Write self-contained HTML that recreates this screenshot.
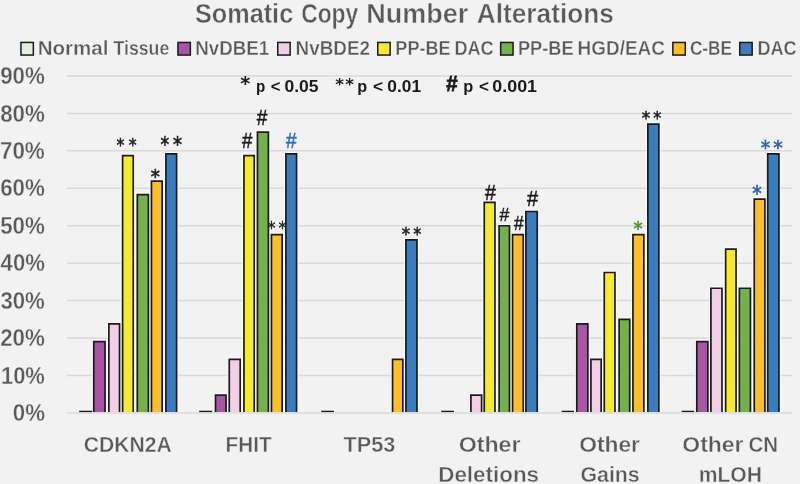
<!DOCTYPE html>
<html lang="en"><head><meta charset="utf-8"><title>Somatic Copy Number Alterations</title>
<style>
html,body{margin:0;padding:0;background:#f2f2f2;overflow:hidden}
svg{display:block}
text{white-space:pre}
</style></head><body>
<svg width="800" height="484" viewBox="0 0 800 484">
<rect x="0" y="0" width="800" height="484" fill="#f2f2f2"/>
<line x1="67.0" x2="792.0" y1="412.90" y2="412.90" stroke="#d9d9d9" stroke-width="1.5"/>
<line x1="67.0" x2="792.0" y1="375.47" y2="375.47" stroke="#d9d9d9" stroke-width="1.5"/>
<line x1="67.0" x2="792.0" y1="338.03" y2="338.03" stroke="#d9d9d9" stroke-width="1.5"/>
<line x1="67.0" x2="792.0" y1="300.60" y2="300.60" stroke="#d9d9d9" stroke-width="1.5"/>
<line x1="67.0" x2="792.0" y1="263.17" y2="263.17" stroke="#d9d9d9" stroke-width="1.5"/>
<line x1="67.0" x2="792.0" y1="225.73" y2="225.73" stroke="#d9d9d9" stroke-width="1.5"/>
<line x1="67.0" x2="792.0" y1="188.30" y2="188.30" stroke="#d9d9d9" stroke-width="1.5"/>
<line x1="67.0" x2="792.0" y1="150.87" y2="150.87" stroke="#d9d9d9" stroke-width="1.5"/>
<line x1="67.0" x2="792.0" y1="113.43" y2="113.43" stroke="#d9d9d9" stroke-width="1.5"/>
<line x1="67.0" x2="792.0" y1="76.00" y2="76.00" stroke="#d9d9d9" stroke-width="1.5"/>
<rect x="78.40" y="409.80" width="14.50" height="2.6" fill="#fff" opacity="0.8"/>
<path d="M93.75 412.00V341.59H105.05V412.00" fill="none" stroke="#fff" stroke-width="3.7" opacity="0.8"/>
<path d="M108.85 412.00V323.81H119.55V412.00" fill="none" stroke="#fff" stroke-width="3.7" opacity="0.8"/>
<path d="M122.60 412.00V155.55H133.25V412.00" fill="none" stroke="#fff" stroke-width="3.7" opacity="0.8"/>
<path d="M137.30 412.00V194.66H148.40V412.00" fill="none" stroke="#fff" stroke-width="3.7" opacity="0.8"/>
<path d="M151.45 412.00V181.19H162.15V412.00" fill="none" stroke="#fff" stroke-width="3.7" opacity="0.8"/>
<path d="M165.90 412.00V153.86H176.60V412.00" fill="none" stroke="#fff" stroke-width="3.7" opacity="0.8"/>
<rect x="198.40" y="409.80" width="14.50" height="2.6" fill="#fff" opacity="0.8"/>
<path d="M215.50 412.00V395.08H226.05V412.00" fill="none" stroke="#fff" stroke-width="3.7" opacity="0.8"/>
<path d="M229.25 412.00V359.37H240.20V412.00" fill="none" stroke="#fff" stroke-width="3.7" opacity="0.8"/>
<path d="M243.95 412.00V155.55H254.25V412.00" fill="none" stroke="#fff" stroke-width="3.7" opacity="0.8"/>
<path d="M257.45 412.00V132.15H268.40V412.00" fill="none" stroke="#fff" stroke-width="3.7" opacity="0.8"/>
<path d="M271.45 412.00V234.72H282.15V412.00" fill="none" stroke="#fff" stroke-width="3.7" opacity="0.8"/>
<path d="M285.90 412.00V153.86H296.55V412.00" fill="none" stroke="#fff" stroke-width="3.7" opacity="0.8"/>
<rect x="320.50" y="409.80" width="14.20" height="2.6" fill="#fff" opacity="0.8"/>
<path d="M392.55 412.00V359.37H402.85V412.00" fill="none" stroke="#fff" stroke-width="3.7" opacity="0.8"/>
<path d="M405.90 412.00V239.96H417.00V412.00" fill="none" stroke="#fff" stroke-width="3.7" opacity="0.8"/>
<rect x="440.50" y="409.80" width="14.20" height="2.6" fill="#fff" opacity="0.8"/>
<path d="M470.90 412.00V395.08H481.60V412.00" fill="none" stroke="#fff" stroke-width="3.7" opacity="0.8"/>
<path d="M484.25 412.00V202.34H494.95V412.00" fill="none" stroke="#fff" stroke-width="3.7" opacity="0.8"/>
<path d="M499.10 412.00V225.73H509.50V412.00" fill="none" stroke="#fff" stroke-width="3.7" opacity="0.8"/>
<path d="M512.55 412.00V234.72H523.25V412.00" fill="none" stroke="#fff" stroke-width="3.7" opacity="0.8"/>
<path d="M525.90 412.00V211.51H537.25V412.00" fill="none" stroke="#fff" stroke-width="3.7" opacity="0.8"/>
<rect x="560.90" y="409.80" width="13.80" height="2.6" fill="#fff" opacity="0.8"/>
<path d="M576.75 412.00V323.81H587.85V412.00" fill="none" stroke="#fff" stroke-width="3.7" opacity="0.8"/>
<path d="M590.90 412.00V359.37H601.15V412.00" fill="none" stroke="#fff" stroke-width="3.7" opacity="0.8"/>
<path d="M604.25 412.00V272.52H614.95V412.00" fill="none" stroke="#fff" stroke-width="3.7" opacity="0.8"/>
<path d="M619.10 412.00V319.32H629.75V412.00" fill="none" stroke="#fff" stroke-width="3.7" opacity="0.8"/>
<path d="M632.95 412.00V234.72H643.85V412.00" fill="none" stroke="#fff" stroke-width="3.7" opacity="0.8"/>
<path d="M647.85 412.00V124.10H658.85V412.00" fill="none" stroke="#fff" stroke-width="3.7" opacity="0.8"/>
<rect x="680.90" y="409.80" width="14.05" height="2.6" fill="#fff" opacity="0.8"/>
<path d="M696.75 412.00V341.59H707.85V412.00" fill="none" stroke="#fff" stroke-width="3.7" opacity="0.8"/>
<path d="M710.90 412.00V288.25H722.00V412.00" fill="none" stroke="#fff" stroke-width="3.7" opacity="0.8"/>
<path d="M725.65 412.00V249.13H736.05V412.00" fill="none" stroke="#fff" stroke-width="3.7" opacity="0.8"/>
<path d="M739.35 412.00V288.25H750.45V412.00" fill="none" stroke="#fff" stroke-width="3.7" opacity="0.8"/>
<path d="M754.25 412.00V199.16H764.90V412.00" fill="none" stroke="#fff" stroke-width="3.7" opacity="0.8"/>
<path d="M767.70 412.00V153.86H778.95V412.00" fill="none" stroke="#fff" stroke-width="3.7" opacity="0.8"/>
<text transform="matrix(0.8000 0 0 0.9011 267.50 234.00)" font-family="'DejaVu Sans', sans-serif" font-weight="normal" font-size="20.0" fill="#1a1a1a" stroke="#1a1a1a" stroke-width="0.4">*</text>
<text transform="matrix(0.8000 0 0 0.9011 278.50 234.00)" font-family="'DejaVu Sans', sans-serif" font-weight="normal" font-size="20.0" fill="#1a1a1a" stroke="#1a1a1a" stroke-width="0.4">*</text>
<rect x="79.10" y="410.70" width="13.10" height="1.4" fill="#1a1a1a"/>
<path d="M93.75 412.00V341.59H105.05V412.00" fill="#a855a5" stroke="#1a1a1a" stroke-width="1.7"/>
<path d="M108.85 412.00V323.81H119.55V412.00" fill="#f2cfe6" stroke="#1a1a1a" stroke-width="1.7"/>
<path d="M122.60 412.00V155.55H133.25V412.00" fill="#f5ea2d" stroke="#1a1a1a" stroke-width="1.7"/>
<path d="M137.30 412.00V194.66H148.40V412.00" fill="#74b04c" stroke="#1a1a1a" stroke-width="1.7"/>
<path d="M151.45 412.00V181.19H162.15V412.00" fill="#fdbe2c" stroke="#1a1a1a" stroke-width="1.7"/>
<path d="M165.90 412.00V153.86H176.60V412.00" fill="#3b7cbf" stroke="#1a1a1a" stroke-width="1.7"/>
<rect x="199.10" y="410.70" width="13.10" height="1.4" fill="#1a1a1a"/>
<path d="M215.50 412.00V395.08H226.05V412.00" fill="#a855a5" stroke="#1a1a1a" stroke-width="1.7"/>
<path d="M229.25 412.00V359.37H240.20V412.00" fill="#f2cfe6" stroke="#1a1a1a" stroke-width="1.7"/>
<path d="M243.95 412.00V155.55H254.25V412.00" fill="#f5ea2d" stroke="#1a1a1a" stroke-width="1.7"/>
<path d="M257.45 412.00V132.15H268.40V412.00" fill="#74b04c" stroke="#1a1a1a" stroke-width="1.7"/>
<path d="M271.45 412.00V234.72H282.15V412.00" fill="#fdbe2c" stroke="#1a1a1a" stroke-width="1.7"/>
<path d="M285.90 412.00V153.86H296.55V412.00" fill="#3b7cbf" stroke="#1a1a1a" stroke-width="1.7"/>
<rect x="321.20" y="410.70" width="12.80" height="1.4" fill="#1a1a1a"/>
<path d="M392.55 412.00V359.37H402.85V412.00" fill="#fdbe2c" stroke="#1a1a1a" stroke-width="1.7"/>
<path d="M405.90 412.00V239.96H417.00V412.00" fill="#3b7cbf" stroke="#1a1a1a" stroke-width="1.7"/>
<rect x="441.20" y="410.70" width="12.80" height="1.4" fill="#1a1a1a"/>
<path d="M470.90 412.00V395.08H481.60V412.00" fill="#f2cfe6" stroke="#1a1a1a" stroke-width="1.7"/>
<path d="M484.25 412.00V202.34H494.95V412.00" fill="#f5ea2d" stroke="#1a1a1a" stroke-width="1.7"/>
<path d="M499.10 412.00V225.73H509.50V412.00" fill="#74b04c" stroke="#1a1a1a" stroke-width="1.7"/>
<path d="M512.55 412.00V234.72H523.25V412.00" fill="#fdbe2c" stroke="#1a1a1a" stroke-width="1.7"/>
<path d="M525.90 412.00V211.51H537.25V412.00" fill="#3b7cbf" stroke="#1a1a1a" stroke-width="1.7"/>
<rect x="561.60" y="410.70" width="12.40" height="1.4" fill="#1a1a1a"/>
<path d="M576.75 412.00V323.81H587.85V412.00" fill="#a855a5" stroke="#1a1a1a" stroke-width="1.7"/>
<path d="M590.90 412.00V359.37H601.15V412.00" fill="#f2cfe6" stroke="#1a1a1a" stroke-width="1.7"/>
<path d="M604.25 412.00V272.52H614.95V412.00" fill="#f5ea2d" stroke="#1a1a1a" stroke-width="1.7"/>
<path d="M619.10 412.00V319.32H629.75V412.00" fill="#74b04c" stroke="#1a1a1a" stroke-width="1.7"/>
<path d="M632.95 412.00V234.72H643.85V412.00" fill="#fdbe2c" stroke="#1a1a1a" stroke-width="1.7"/>
<path d="M647.85 412.00V124.10H658.85V412.00" fill="#3b7cbf" stroke="#1a1a1a" stroke-width="1.7"/>
<rect x="681.60" y="410.70" width="12.65" height="1.4" fill="#1a1a1a"/>
<path d="M696.75 412.00V341.59H707.85V412.00" fill="#a855a5" stroke="#1a1a1a" stroke-width="1.7"/>
<path d="M710.90 412.00V288.25H722.00V412.00" fill="#f2cfe6" stroke="#1a1a1a" stroke-width="1.7"/>
<path d="M725.65 412.00V249.13H736.05V412.00" fill="#f5ea2d" stroke="#1a1a1a" stroke-width="1.7"/>
<path d="M739.35 412.00V288.25H750.45V412.00" fill="#74b04c" stroke="#1a1a1a" stroke-width="1.7"/>
<path d="M754.25 412.00V199.16H764.90V412.00" fill="#fdbe2c" stroke="#1a1a1a" stroke-width="1.7"/>
<path d="M767.70 412.00V153.86H778.95V412.00" fill="#3b7cbf" stroke="#1a1a1a" stroke-width="1.7"/>
<rect x="20.95" y="42.45" width="12.4" height="12.6" fill="#e2efda" stroke="#1a1a1a" stroke-width="1.5"/>
<rect x="177.95" y="42.45" width="12.4" height="12.6" fill="#a855a5" stroke="#1a1a1a" stroke-width="1.5"/>
<rect x="277.75" y="42.45" width="12.4" height="12.6" fill="#f2cfe6" stroke="#1a1a1a" stroke-width="1.5"/>
<rect x="377.75" y="42.45" width="12.4" height="12.6" fill="#f5ea2d" stroke="#1a1a1a" stroke-width="1.5"/>
<rect x="500.65" y="42.45" width="12.4" height="12.6" fill="#74b04c" stroke="#1a1a1a" stroke-width="1.5"/>
<rect x="672.85" y="42.45" width="12.4" height="12.6" fill="#fdbe2c" stroke="#1a1a1a" stroke-width="1.5"/>
<rect x="739.75" y="42.45" width="12.4" height="12.6" fill="#3b7cbf" stroke="#1a1a1a" stroke-width="1.5"/>
<text transform="matrix(0.9367 0 0 1.0000 194.88 23.00)" font-family="'Liberation Sans', sans-serif" font-weight="bold" font-size="27.0" fill="#595959" stroke="#f2f2f2" stroke-width="0.45">Somatic</text>
<text transform="matrix(0.8456 0 0 1.0000 301.14 23.00)" font-family="'Liberation Sans', sans-serif" font-weight="bold" font-size="27.0" fill="#595959" stroke="#f2f2f2" stroke-width="0.45">Copy</text>
<text transform="matrix(0.9995 0 0 1.0000 366.20 23.00)" font-family="'Liberation Sans', sans-serif" font-weight="bold" font-size="27.0" fill="#595959" stroke="#f2f2f2" stroke-width="0.45">Number</text>
<text transform="matrix(0.9715 0 0 1.0000 476.83 23.00)" font-family="'Liberation Sans', sans-serif" font-weight="bold" font-size="27.0" fill="#595959" stroke="#f2f2f2" stroke-width="0.45">Alterations</text>
<text transform="matrix(1.0369 0 0 1.0000 37.64 55.00)" font-family="'Liberation Sans', sans-serif" font-weight="bold" font-size="19.8" fill="#595959" stroke="#f2f2f2" stroke-width="0.35">Normal</text>
<text transform="matrix(0.8934 0 0 1.0000 113.55 55.00)" font-family="'Liberation Sans', sans-serif" font-weight="bold" font-size="19.8" fill="#595959" stroke="#f2f2f2" stroke-width="0.35">Tissue</text>
<text transform="matrix(0.9465 0 0 1.0000 195.28 55.00)" font-family="'Liberation Sans', sans-serif" font-weight="bold" font-size="19.8" fill="#595959" stroke="#f2f2f2" stroke-width="0.35">NvDBE1</text>
<text transform="matrix(0.9536 0 0 1.0000 295.57 55.00)" font-family="'Liberation Sans', sans-serif" font-weight="bold" font-size="19.8" fill="#595959" stroke="#f2f2f2" stroke-width="0.35">NvBDE2</text>
<text transform="matrix(0.9147 0 0 1.0000 395.33 55.00)" font-family="'Liberation Sans', sans-serif" font-weight="bold" font-size="19.8" fill="#595959" stroke="#f2f2f2" stroke-width="0.35">PP-BE</text>
<text transform="matrix(0.9160 0 0 1.0000 454.43 55.00)" font-family="'Liberation Sans', sans-serif" font-weight="bold" font-size="19.8" fill="#595959" stroke="#f2f2f2" stroke-width="0.35">DAC</text>
<text transform="matrix(0.9207 0 0 1.0000 517.92 55.00)" font-family="'Liberation Sans', sans-serif" font-weight="bold" font-size="19.8" fill="#595959" stroke="#f2f2f2" stroke-width="0.35">PP-BE</text>
<text transform="matrix(0.9566 0 0 1.0000 577.57 55.00)" font-family="'Liberation Sans', sans-serif" font-weight="bold" font-size="19.8" fill="#595959" stroke="#f2f2f2" stroke-width="0.35">HGD/EAC</text>
<text transform="matrix(0.8710 0 0 1.0000 689.93 55.00)" font-family="'Liberation Sans', sans-serif" font-weight="bold" font-size="19.8" fill="#595959" stroke="#f2f2f2" stroke-width="0.35">C-BE</text>
<text transform="matrix(0.9160 0 0 1.0000 757.43 55.00)" font-family="'Liberation Sans', sans-serif" font-weight="bold" font-size="19.8" fill="#595959" stroke="#f2f2f2" stroke-width="0.35">DAC</text>
<text transform="matrix(0.9606 0 0 1.0000 12.74 421.00)" font-family="'Liberation Sans', sans-serif" font-weight="bold" font-size="23.2" fill="#595959" stroke="#f2f2f2" stroke-width="0.35">0%</text>
<text transform="matrix(0.9455 0 0 1.0000 0.95 383.57)" font-family="'Liberation Sans', sans-serif" font-weight="bold" font-size="23.2" fill="#595959" stroke="#f2f2f2" stroke-width="0.35">10%</text>
<text transform="matrix(0.9631 0 0 1.0000 0.14 346.13)" font-family="'Liberation Sans', sans-serif" font-weight="bold" font-size="23.2" fill="#595959" stroke="#f2f2f2" stroke-width="0.35">20%</text>
<text transform="matrix(0.9578 0 0 1.0000 0.38 308.70)" font-family="'Liberation Sans', sans-serif" font-weight="bold" font-size="23.2" fill="#595959" stroke="#f2f2f2" stroke-width="0.35">30%</text>
<text transform="matrix(0.9525 0 0 1.0000 0.62 271.27)" font-family="'Liberation Sans', sans-serif" font-weight="bold" font-size="23.2" fill="#595959" stroke="#f2f2f2" stroke-width="0.35">40%</text>
<text transform="matrix(0.9631 0 0 1.0000 0.14 233.83)" font-family="'Liberation Sans', sans-serif" font-weight="bold" font-size="23.2" fill="#595959" stroke="#f2f2f2" stroke-width="0.35">50%</text>
<text transform="matrix(0.9631 0 0 1.0000 0.14 196.40)" font-family="'Liberation Sans', sans-serif" font-weight="bold" font-size="23.2" fill="#595959" stroke="#f2f2f2" stroke-width="0.35">60%</text>
<text transform="matrix(0.9685 0 0 1.0000 -0.11 158.97)" font-family="'Liberation Sans', sans-serif" font-weight="bold" font-size="23.2" fill="#595959" stroke="#f2f2f2" stroke-width="0.35">70%</text>
<text transform="matrix(0.9631 0 0 1.0000 0.14 121.53)" font-family="'Liberation Sans', sans-serif" font-weight="bold" font-size="23.2" fill="#595959" stroke="#f2f2f2" stroke-width="0.35">80%</text>
<text transform="matrix(0.9631 0 0 1.0000 0.14 84.10)" font-family="'Liberation Sans', sans-serif" font-weight="bold" font-size="23.2" fill="#595959" stroke="#f2f2f2" stroke-width="0.35">90%</text>
<text transform="matrix(0.9429 0 0 1.0000 83.72 452.00)" font-family="'Liberation Sans', sans-serif" font-weight="bold" font-size="22.4" fill="#595959" stroke="#f2f2f2" stroke-width="0.4">CDKN2A</text>
<text transform="matrix(0.9242 0 0 1.0000 225.58 452.00)" font-family="'Liberation Sans', sans-serif" font-weight="bold" font-size="22.4" fill="#595959" stroke="#f2f2f2" stroke-width="0.4">FHIT</text>
<text transform="matrix(0.9654 0 0 1.0000 343.62 452.00)" font-family="'Liberation Sans', sans-serif" font-weight="bold" font-size="22.4" fill="#595959" stroke="#f2f2f2" stroke-width="0.4">TP53</text>
<text transform="matrix(1.0345 0 0 1.0000 458.71 452.00)" font-family="'Liberation Sans', sans-serif" font-weight="bold" font-size="22.4" fill="#595959" stroke="#f2f2f2" stroke-width="0.4">Other</text>
<text transform="matrix(1.0000 0 0 1.0000 438.25 482.00)" font-family="'Liberation Sans', sans-serif" font-weight="bold" font-size="22.4" fill="#595959" stroke="#f2f2f2" stroke-width="0.4">Deletions</text>
<text transform="matrix(1.0190 0 0 1.0000 579.13 452.00)" font-family="'Liberation Sans', sans-serif" font-weight="bold" font-size="22.4" fill="#595959" stroke="#f2f2f2" stroke-width="0.4">Other</text>
<text transform="matrix(0.9540 0 0 1.0000 580.41 482.00)" font-family="'Liberation Sans', sans-serif" font-weight="bold" font-size="22.4" fill="#595959" stroke="#f2f2f2" stroke-width="0.4">Gains</text>
<text transform="matrix(1.0241 0 0 1.0000 682.32 452.00)" font-family="'Liberation Sans', sans-serif" font-weight="bold" font-size="22.4" fill="#595959" stroke="#f2f2f2" stroke-width="0.4">Other</text>
<text transform="matrix(0.9153 0 0 1.0000 748.46 452.00)" font-family="'Liberation Sans', sans-serif" font-weight="bold" font-size="22.4" fill="#595959" stroke="#f2f2f2" stroke-width="0.4">CN</text>
<text transform="matrix(0.9412 0 0 1.0000 698.75 482.00)" font-family="'Liberation Sans', sans-serif" font-weight="bold" font-size="22.4" fill="#595959" stroke="#f2f2f2" stroke-width="0.4">mLOH</text>
<text transform="matrix(0.8824 0 0 1.0000 256.10 92.00)" font-family="'Liberation Sans', sans-serif" font-weight="bold" font-size="17.2" fill="#1a1a1a">p</text>
<text transform="matrix(0.9647 0 0 1.0000 270.78 92.00)" font-family="'Liberation Sans', sans-serif" font-weight="bold" font-size="17.2" fill="#1a1a1a">&lt;</text>
<text transform="matrix(1.0202 0 0 1.0000 284.43 92.00)" font-family="'Liberation Sans', sans-serif" font-weight="bold" font-size="17.2" fill="#1a1a1a">0.05</text>
<text transform="matrix(0.9412 0 0 1.0000 357.32 92.00)" font-family="'Liberation Sans', sans-serif" font-weight="bold" font-size="17.2" fill="#1a1a1a">p</text>
<text transform="matrix(0.9941 0 0 1.0000 373.00 92.00)" font-family="'Liberation Sans', sans-serif" font-weight="bold" font-size="17.2" fill="#1a1a1a">&lt;</text>
<text transform="matrix(1.0078 0 0 1.0000 387.34 92.00)" font-family="'Liberation Sans', sans-serif" font-weight="bold" font-size="17.2" fill="#1a1a1a">0.01</text>
<text transform="matrix(0.9529 0 0 1.0000 463.21 92.00)" font-family="'Liberation Sans', sans-serif" font-weight="bold" font-size="17.2" fill="#1a1a1a">p</text>
<text transform="matrix(0.9941 0 0 1.0000 479.00 92.00)" font-family="'Liberation Sans', sans-serif" font-weight="bold" font-size="17.2" fill="#1a1a1a">&lt;</text>
<text transform="matrix(1.0395 0 0 1.0000 492.32 92.00)" font-family="'Liberation Sans', sans-serif" font-weight="bold" font-size="17.2" fill="#1a1a1a">0.001</text>
<text transform="matrix(0.9684 0 0 0.9769 240.32 90.00)" font-family="'DejaVu Sans', sans-serif" font-weight="bold" font-size="20.0" fill="#1a1a1a">*</text>
<text transform="matrix(0.8316 0 0 0.7777 335.18 90.00)" font-family="'DejaVu Sans', sans-serif" font-weight="bold" font-size="20.0" fill="#1a1a1a">*</text>
<text transform="matrix(0.8316 0 0 0.7777 345.18 90.00)" font-family="'DejaVu Sans', sans-serif" font-weight="bold" font-size="20.0" fill="#1a1a1a">*</text>
<text transform="matrix(1.0222 0 0 1.0719 446.25 91.00)" font-family="'Liberation Sans', sans-serif" font-weight="bold" font-size="20.0" fill="#1a1a1a" stroke="#1a1a1a" stroke-width="0.7">#</text>
<text transform="matrix(0.7895 0 0 0.9187 116.60 151.00)" font-family="'DejaVu Sans', sans-serif" font-weight="normal" font-size="20.0" fill="#1a1a1a" stroke="#1a1a1a" stroke-width="0.6">*</text>
<text transform="matrix(0.7895 0 0 0.9187 128.80 151.00)" font-family="'DejaVu Sans', sans-serif" font-weight="normal" font-size="20.0" fill="#1a1a1a" stroke="#1a1a1a" stroke-width="0.6">*</text>
<text transform="matrix(0.9158 0 0 0.9700 150.67 183.00)" font-family="'DejaVu Sans', sans-serif" font-weight="normal" font-size="20.0" fill="#1a1a1a" stroke="#1a1a1a" stroke-width="0.6">*</text>
<text transform="matrix(0.8632 0 0 1.0182 160.58 152.00)" font-family="'DejaVu Sans', sans-serif" font-weight="normal" font-size="20.0" fill="#1a1a1a" stroke="#1a1a1a" stroke-width="0.6">*</text>
<text transform="matrix(0.9053 0 0 1.0182 172.97 152.00)" font-family="'DejaVu Sans', sans-serif" font-weight="normal" font-size="20.0" fill="#1a1a1a" stroke="#1a1a1a" stroke-width="0.6">*</text>
<text transform="matrix(0.9348 0 0 1.1137 241.98 148.00)" font-family="'Liberation Sans', sans-serif" font-weight="normal" font-size="20.0" fill="#1a1a1a" stroke="#1a1a1a" stroke-width="0.45">#</text>
<text transform="matrix(0.9522 0 0 1.0995 256.84 125.00)" font-family="'Liberation Sans', sans-serif" font-weight="normal" font-size="20.0" fill="#1a1a1a" stroke="#1a1a1a" stroke-width="0.45">#</text>
<text transform="matrix(0.9565 0 0 1.0996 285.89 148.00)" font-family="'Liberation Sans', sans-serif" font-weight="normal" font-size="20.0" fill="#2f6db5" stroke="#2f6db5" stroke-width="0.45">#</text>
<text transform="matrix(0.8421 0 0 0.8834 401.79 240.00)" font-family="'DejaVu Sans', sans-serif" font-weight="normal" font-size="20.0" fill="#1a1a1a" stroke="#1a1a1a" stroke-width="0.6">*</text>
<text transform="matrix(0.8105 0 0 0.8834 413.30 240.00)" font-family="'DejaVu Sans', sans-serif" font-weight="normal" font-size="20.0" fill="#1a1a1a" stroke="#1a1a1a" stroke-width="0.6">*</text>
<text transform="matrix(0.9826 0 0 1.1137 485.00 200.00)" font-family="'Liberation Sans', sans-serif" font-weight="normal" font-size="20.0" fill="#1a1a1a" stroke="#1a1a1a" stroke-width="0.45">#</text>
<text transform="matrix(0.8826 0 0 0.9219 499.62 221.00)" font-family="'Liberation Sans', sans-serif" font-weight="normal" font-size="20.0" fill="#1a1a1a" stroke="#1a1a1a" stroke-width="0.45">#</text>
<text transform="matrix(0.8652 0 0 0.9642 514.12 230.00)" font-family="'Liberation Sans', sans-serif" font-weight="normal" font-size="20.0" fill="#1a1a1a" stroke="#1a1a1a" stroke-width="0.45">#</text>
<text transform="matrix(1.0000 0 0 1.0925 526.90 206.00)" font-family="'Liberation Sans', sans-serif" font-weight="normal" font-size="20.0" fill="#1a1a1a" stroke="#1a1a1a" stroke-width="0.45">#</text>
<text transform="matrix(0.9158 0 0 0.9598 633.57 235.00)" font-family="'DejaVu Sans', sans-serif" font-weight="normal" font-size="20.0" fill="#4f8f35" stroke="#4f8f35" stroke-width="0.6">*</text>
<text transform="matrix(0.8421 0 0 0.8470 641.79 124.00)" font-family="'DejaVu Sans', sans-serif" font-weight="normal" font-size="20.0" fill="#1a1a1a" stroke="#1a1a1a" stroke-width="0.6">*</text>
<text transform="matrix(0.8105 0 0 0.8470 653.30 124.00)" font-family="'DejaVu Sans', sans-serif" font-weight="normal" font-size="20.0" fill="#1a1a1a" stroke="#1a1a1a" stroke-width="0.6">*</text>
<text transform="matrix(0.9474 0 0 1.0695 752.26 201.00)" font-family="'DejaVu Sans', sans-serif" font-weight="normal" font-size="20.0" fill="#2f5fae" stroke="#2f5fae" stroke-width="0.6">*</text>
<text transform="matrix(0.9474 0 0 0.9305 760.76 154.00)" font-family="'DejaVu Sans', sans-serif" font-weight="normal" font-size="20.0" fill="#2f5fae" stroke="#2f5fae" stroke-width="0.6">*</text>
<text transform="matrix(0.9474 0 0 0.9305 773.26 154.00)" font-family="'DejaVu Sans', sans-serif" font-weight="normal" font-size="20.0" fill="#2f5fae" stroke="#2f5fae" stroke-width="0.6">*</text>
</svg>
</body></html>
